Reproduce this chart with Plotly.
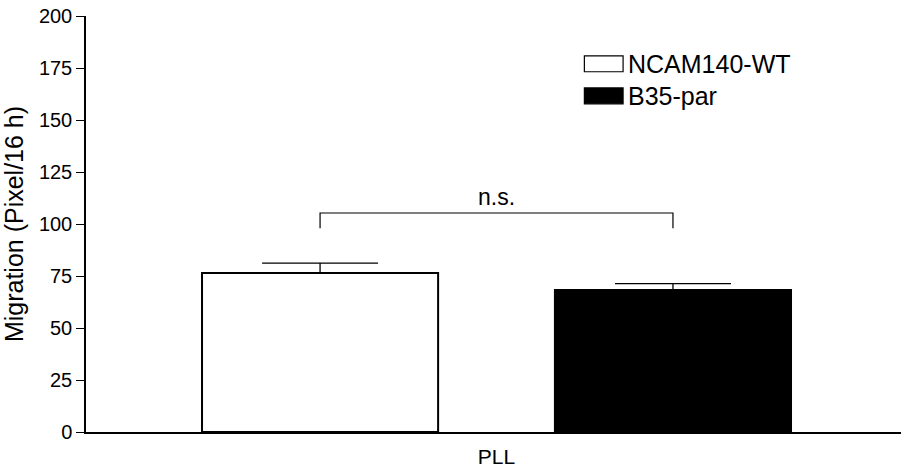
import plotly.graph_objects as go

# Data
category = ["PLL"]
groups = ["NCAM140-WT", "B35-par"]
means = [76.5, 68.3]
sem = [4.7, 3.0]
fills = ["white", "black"]

# Significance bracket
bracket_top = 105.3
bracket_leg = 98.0
sig_label = "n.s."

y_ticks = [0, 25, 50, 75, 100, 125, 150, 175, 200]

FONT = "Liberation Sans, Arial, Helvetica, sans-serif"

BARGAP = 0.134
GROUPGAP = 0.331
slot = (1 - BARGAP) / len(groups)
centers = [-(1 - BARGAP) / 2 + slot * (i + 0.5) for i in range(len(groups))]

fig = go.Figure()
for name, m, e, c in zip(groups, means, sem, fills):
    fig.add_trace(go.Bar(
        x=category, y=[m], name=name,
        marker=dict(color=c, line=dict(color="black", width=2)),
        error_y=dict(type="data", array=[e], arrayminus=[0], symmetric=False,
                     color="black", thickness=1.3, width=58),
        showlegend=False,
    ))

# bracket between the two bar centres
fig.add_shape(type="path",
              path=f"M {centers[0]},{bracket_leg} L {centers[0]},{bracket_top} "
                   f"L {centers[1]},{bracket_top} L {centers[1]},{bracket_leg}",
              xref="x", yref="y", line=dict(color="black", width=1.2))
fig.add_annotation(x=(centers[0] + centers[1]) / 2, y=bracket_top, text=sig_label,
                   showarrow=False, yanchor="bottom", yshift=1,
                   font=dict(family=FONT, size=23, color="black"))

# legend drawn as swatches with labels
legend_y = [0.885, 0.808]
for name, c, ly in zip(groups, fills, legend_y):
    fig.add_shape(type="rect", xref="paper", yref="paper",
                  x0=0.6115, x1=0.659, y0=ly - 0.019, y1=ly + 0.019,
                  fillcolor=c, line=dict(color="black", width=1.2))
    fig.add_annotation(xref="paper", yref="paper", x=0.662, y=ly, text=name,
                       showarrow=False, xanchor="left", yanchor="middle",
                       font=dict(family=FONT, size=25, color="black"))

fig.update_layout(
    width=901, height=473,
    margin=dict(l=86, r=0, t=16, b=41),
    paper_bgcolor="white", plot_bgcolor="white",
    barmode="group", bargap=BARGAP, bargroupgap=GROUPGAP,
    font=dict(family=FONT, size=20, color="black"),
)
fig.update_xaxes(range=[-0.5037, 0.4963], showline=True, linecolor="black", linewidth=1.5,
                 ticks="", showgrid=False, zeroline=False, ticklabelstandoff=5,
                 automargin=False, tickfont=dict(size=21))
fig.update_yaxes(range=[0, 200], tickvals=y_ticks, showline=True, linecolor="black",
                 linewidth=1.5, ticks="outside", ticklen=8, tickwidth=1.2, tickcolor="black",
                 showgrid=False, zeroline=False, tickfont=dict(size=20), automargin=False,
                 title=dict(text="Migration (Pixel/16 h)", font=dict(size=25), standoff=8))

fig.write_html("out.html")
